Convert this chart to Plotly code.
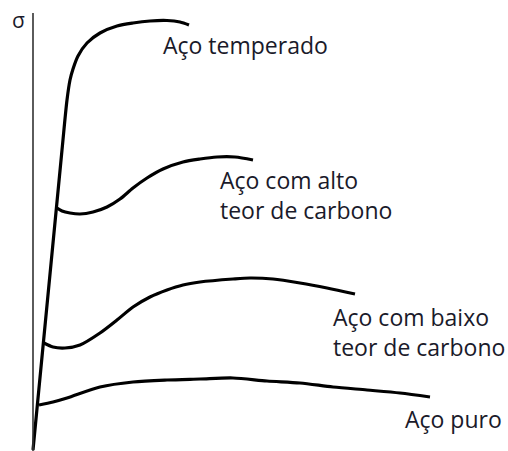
import plotly.graph_objects as go

# Curves (strain = arbitrary units, stress = arbitrary units)
temperado_strain = [0, 29, 34, 37, 40, 45, 54, 67, 84, 100, 117, 134, 147, 156]
temperado_stress = [0, 300, 350, 370, 381, 394, 407, 417, 424, 427, 429, 429.5, 428, 425]

alto_strain = [24, 29, 37, 47, 60, 74, 87, 100, 114, 130, 150, 167, 184, 202, 220]
alto_stress = [242, 239, 237, 236, 238, 243, 251, 262, 272, 281, 288, 291, 293, 293, 290]

baixo_strain = [11, 20, 32, 47, 67, 84, 100, 117, 134, 150, 167, 200, 217, 240, 267, 294, 322]
baixo_stress = [107, 103, 102, 105, 117, 130, 143, 153, 160, 165, 168, 171, 172, 171, 167, 162, 156]

puro_strain = [6, 20, 34, 67, 100, 134, 167, 200, 234, 267, 300, 334, 367, 397]
puro_stress = [45, 48, 52, 63, 68, 70, 71, 72, 69, 67, 63, 60, 57, 53]

labels = ["Aço temperado", "Aço com alto<br>teor de carbono",
          "Aço com baixo<br>teor de carbono", "Aço puro"]
label_strain = [128, 185, 298, 370]
label_stress = [405, 255, 118, 31]

axis_top = 437
sigma_label = "σ"

fig = go.Figure()
line_style = dict(color="black", width=3.2, shape="spline", smoothing=0.8)
for xs, ys in [(temperado_strain, temperado_stress), (alto_strain, alto_stress),
               (baixo_strain, baixo_stress), (puro_strain, puro_stress)]:
    fig.add_trace(go.Scatter(x=xs, y=ys, mode="lines", line=line_style,
                             hoverinfo="skip", showlegend=False))

# vertical stress axis
fig.add_shape(type="line", x0=0, x1=0, y0=-5, y1=axis_top,
              line=dict(color="#333333", width=1.6))

font = dict(family="Open Sans, sans-serif", size=23, color="#1a1a2a")
for t, x, y in zip(labels, label_strain, label_stress):
    fig.add_annotation(x=x, y=y, text=t, showarrow=False, xanchor="left",
                       yanchor="middle", align="left", font=font)

fig.add_annotation(x=-15, y=430, text=sigma_label, showarrow=False,
                   xanchor="center", yanchor="middle",
                   font=dict(family="Open Sans, sans-serif", size=21, color="#1a1a2a"))

fig.update_layout(
    width=508, height=451, margin=dict(l=0, r=0, t=0, b=0),
    paper_bgcolor="white", plot_bgcolor="white",
    xaxis=dict(range=[-33, 475], visible=False, fixedrange=True),
    yaxis=dict(range=[-1, 450], visible=False, fixedrange=True),
)
fig.write_html(
    "out.html",
    config={"displayModeBar": False, "staticPlot": True},
    post_script="document.body.style.margin='0';document.body.style.overflow='hidden';",
)
